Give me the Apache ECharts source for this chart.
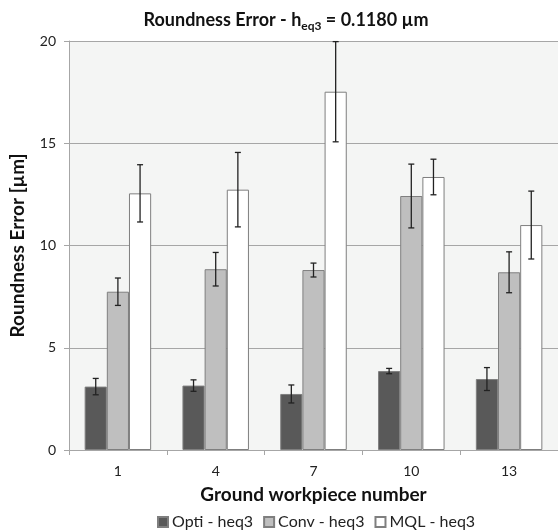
<!DOCTYPE html>
<html><head><meta charset="utf-8">
<script src="https://cdn.jsdelivr.net/npm/echarts@6/dist/echarts.min.js"></script>
<style>html,body{margin:0;padding:0;background:#fff}#c{width:558px;height:531px}</style>
</head><body><div id="c"></div>
<script>
const categories = ['1', '4', '7', '10', '13'];
const seriesNames = ['Opti - heq3', 'Conv - heq3', 'MQL - heq3'];
const optiValues = [3.1, 3.15, 2.74, 3.86, 3.47];
const optiErrors = [0.4, 0.28, 0.44, 0.13, 0.56];
const convValues = [7.74, 8.84, 8.8, 12.42, 8.69];
const convErrors = [0.67, 0.82, 0.34, 1.56, 1.0];
const mqlValues = [12.55, 12.73, 17.52, 13.35, 11.0];
const mqlErrors = [1.4, 1.82, 2.45, 0.87, 1.66];
const yTicks = [0, 5, 10, 15, 20];

const values = [optiValues, convValues, mqlValues];
const errors = [optiErrors, convErrors, mqlErrors];
const colors = ['#595959', '#bfbfbf', '#ffffff'];
const gapPct = 32;
const FONT = 'Lato, "Open Sans", sans-serif';

const chart = echarts.init(document.getElementById('c'));

const barSeries = seriesNames.map((n, i) => ({
  name: n, type: 'bar', data: values[i], barGap: '0%', barCategoryGap: gapPct + '%',
  itemStyle: { color: colors[i], borderColor: '#7f7f7f', borderWidth: 1 }, z: 2
}));

const errSeries = seriesNames.map((n, si) => ({
  type: 'custom', name: n + ' err', z: 5, silent: true,
  data: categories.map((c, k) => [k, values[si][k] - errors[si][k], values[si][k] + errors[si][k]]),
  renderItem: function (params, api) {
    const k = api.value(0);
    const lo = api.coord([k, api.value(1)]);
    const hi = api.coord([k, api.value(2)]);
    const band = api.size([1, 0])[0];
    const bw = band * (1 - gapPct / 100) / 3;
    const x = lo[0] + (si - 1) * bw;
    const cap = 3;
    const st = { stroke: '#222', lineWidth: 1.3 };
    return { type: 'group', children: [
      { type: 'line', shape: { x1: x, y1: lo[1], x2: x, y2: hi[1] }, style: st },
      { type: 'line', shape: { x1: x - cap, y1: lo[1], x2: x + cap, y2: lo[1] }, style: st },
      { type: 'line', shape: { x1: x - cap, y1: hi[1], x2: x + cap, y2: hi[1] }, style: st }
    ]};
  }
}));

chart.setOption({
  animation: false,
  backgroundColor: '#ffffff',
  textStyle: { fontFamily: FONT },
  title: {
    text: '{a|Roundness Error - h}{b|eq3}{a| = 0.1180 µm}',
    left: 281, textAlign: 'center', top: 4,
    textStyle: { rich: {
      a: { fontSize: 18, fontWeight: 'bold', color: '#111', fontFamily: FONT },
      b: { fontSize: 12, fontWeight: 'bold', color: '#111', fontFamily: FONT, padding: [11, 0, 0, 0] }
    } }
  },
  legend: {
    data: seriesNames, top: 512, left: 152, itemWidth: 10, itemHeight: 10, itemGap: 10,
    icon: 'rect', padding: [2, 5],
    textStyle: { fontSize: 16, color: '#222', fontFamily: FONT, padding: [0, 0, 0, -1] }
  },
  grid: { left: 67, top: 41, width: 494, height: 409, show: true, backgroundColor: '#f4f5f4', borderWidth: 0 },
  xAxis: {
    type: 'category', data: categories,
    name: 'Ground workpiece number', nameLocation: 'middle', nameGap: 35,
    nameTextStyle: { fontSize: 19, fontWeight: 'bold', color: '#111', fontFamily: FONT },
    axisLine: { lineStyle: { color: '#a6a6a6', width: 1 } },
    axisTick: { show: true, length: 5, lineStyle: { color: '#a6a6a6' } },
    axisLabel: { fontSize: 14, color: '#222', margin: 14 }
  },
  yAxis: {
    type: 'value', min: 0, max: 20, interval: 5,
    name: 'Roundness Error [µm]', nameLocation: 'middle', nameGap: 42, nameRotate: 90,
    nameTextStyle: { fontSize: 19, fontWeight: 'bold', color: '#111', fontFamily: FONT },
    axisLine: { show: true, lineStyle: { color: '#a6a6a6' } },
    axisTick: { show: true, length: 5, lineStyle: { color: '#a6a6a6' } },
    splitLine: { lineStyle: { color: '#a6a6a6', width: 1 } },
    axisLabel: { fontSize: 14, color: '#222', margin: 13,
      formatter: v => yTicks.includes(v) ? String(v) : '' }
  },
  series: barSeries.concat(errSeries)
});
</script></body></html>
